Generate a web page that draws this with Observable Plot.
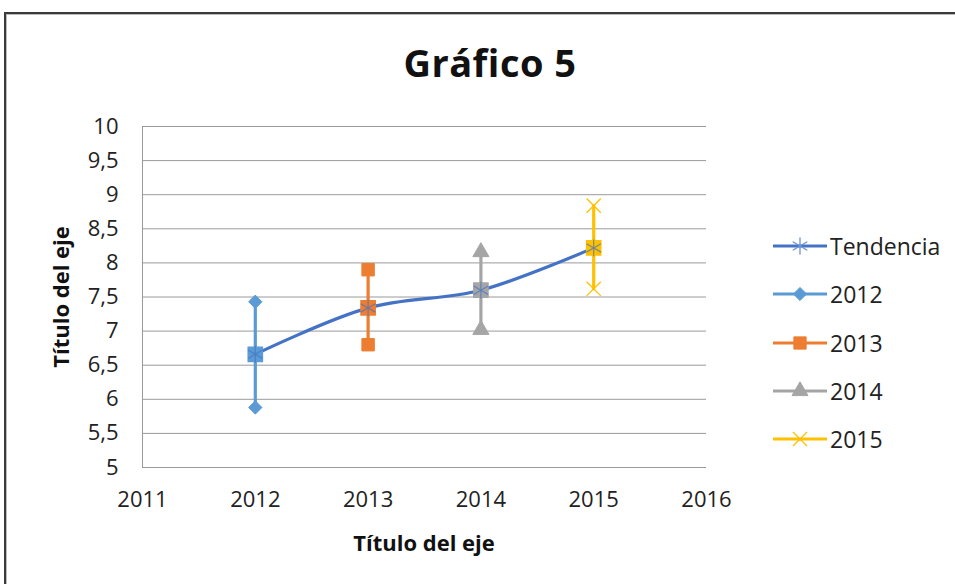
<!DOCTYPE html>
<html>
<head>
<meta charset="utf-8">
<script src="https://cdn.jsdelivr.net/npm/d3@7"></script>
<script src="https://cdn.jsdelivr.net/npm/@observablehq/plot@0.6"></script>
<style>
  html, body { margin: 0; padding: 0; background: #fff; }
  #wrap { position: relative; width: 955px; height: 584px; overflow: hidden; font-family: "Open Sans", Lato, sans-serif; color: #222; }
  #frame { position: absolute; left: 4px; top: 12px; width: 1100px; height: 800px; border: 2px solid #3a3a3a; box-shadow: inset 1px 1px 0 #bbb; }
  #title { position: absolute; left: 0; top: 36px; width: 980px; text-align: center; font-size: 38px; font-weight: bold; color: #111; letter-spacing: 0.5px; }
  #xlabel { position: absolute; left: 142px; width: 564px; top: 527px; text-align: center; font-size: 22px; font-weight: bold; color: #111; }
  #ylabel { position: absolute; left: 60px; top: 297px; transform: translate(-50%, -50%) rotate(-90deg); font-size: 22px; font-weight: bold; white-space: nowrap; color: #111; }
  #legend { position: absolute; left: 772px; top: 222px; }
  .item { display: flex; align-items: center; height: 48.25px; font-size: 23px; color: #222; }
  .item svg { margin-right: 2px; }
  #chart { position: absolute; left: 0; top: 0; }
</style>
</head>
<body>
<div id="wrap">
  <div id="frame"></div>
  <div id="chart"></div>
  <div id="title">Gráfico 5</div>
  <div id="xlabel">Título del eje</div>
  <div id="ylabel">Título del eje</div>
  <div id="legend"></div>
</div>
<script>
const years = [2012, 2013, 2014, 2015];
const minVals = [5.88, 6.80, 7.02, 7.62];
const meanVals = [6.66, 7.34, 7.60, 8.22];
const maxVals = [7.43, 7.90, 8.16, 8.84];
const seriesNames = ["2012", "2013", "2014", "2015"];
const seriesColors = ["#5B9BD5", "#ED7D31", "#A5A5A5", "#FFC000"];
const seriesSymbols = ["diamond2", "square", "triangle", "times"];
const trendName = "Tendencia";
const trendColor = "#4472C4";
const xTicks = [2011, 2012, 2013, 2014, 2015, 2016];
const yTicks = d3.range(5, 10.01, 0.5);

// build point table: each series holds max, mean, min
const pts = [];
years.forEach((yr, i) => {
  [maxVals[i], meanVals[i], minVals[i]].forEach((v, k) => {
    pts.push({year: yr, value: v, series: seriesNames[i], kind: k === 1 ? "mean" : "end"});
  });
});
const trend = years.map((yr, i) => ({year: yr, value: meanVals[i]}));

const marks = [
  Plot.gridY(yTicks, {stroke: "#9a9a9a", strokeOpacity: 1, strokeWidth: 1}),
  Plot.ruleX([2011], {stroke: "#9a9a9a"}),
  Plot.ruleY([5], {stroke: "#9a9a9a"}),
  Plot.axisY(yTicks, {tickSize: 0, tickPadding: 24, tickFormat: d => String(d).replace(".", ","), label: null}),
  Plot.axisX(xTicks, {tickSize: 0, tickPadding: 24, tickFormat: d => String(d), label: null})
];
seriesNames.forEach((s, i) => {
  const data = pts.filter(p => p.series === s);
  marks.push(Plot.line(data, {x: "year", y: "value", stroke: seriesColors[i], strokeWidth: 3.2}));
});
marks.push(Plot.line(trend, {x: "year", y: "value", stroke: trendColor, strokeWidth: 3.2, curve: "catmull-rom"}));
seriesNames.forEach((s, i) => {
  const ends = pts.filter(p => p.series === s && p.kind === "end");
  const sym = seriesSymbols[i];
  if (sym === "times") {
    marks.push(Plot.dot(ends, {x: "year", y: "value", symbol: sym, r: 6.5, stroke: seriesColors[i], strokeWidth: 1.3}));
  } else {
    marks.push(Plot.dot(ends, {x: "year", y: "value", symbol: sym, r: sym === "square" ? 7 : 6, fill: seriesColors[i], stroke: seriesColors[i], strokeWidth: 1}));
  }
  const mid = pts.filter(p => p.series === s && p.kind === "mean");
  marks.push(Plot.dot(mid, {x: "year", y: "value", symbol: "square", r: 8, fill: seriesColors[i], stroke: seriesColors[i]}));
});
marks.push(Plot.dot(trend, {x: "year", y: "value", symbol: "asterisk", r: 8, stroke: trendColor, strokeOpacity: 0.7, strokeWidth: 1.2}));

const chart = Plot.plot({
  width: 955,
  height: 584,
  marginLeft: 142,
  marginRight: 249,
  marginTop: 126,
  marginBottom: 117,
  x: {domain: [2011, 2016]},
  y: {domain: [5, 10]},
  style: {fontSize: "22px", fontFamily: "'Open Sans', Lato, sans-serif", color: "#222", background: "transparent", overflow: "visible"},
  marks
});
document.getElementById("chart").appendChild(chart);

// legend
const legend = d3.select("#legend");
const items = [{name: trendName, color: trendColor, sym: "asterisk"}].concat(
  seriesNames.map((s, i) => ({name: s, color: seriesColors[i], sym: seriesSymbols[i]})));
const symMap = {asterisk: d3.symbolAsterisk, diamond2: d3.symbolDiamond2, square: d3.symbolSquare, triangle: d3.symbolTriangle, times: d3.symbolTimes};
items.forEach(it => {
  const row = legend.append("div").attr("class", "item");
  const svg = row.append("svg").attr("width", 56).attr("height", 20);
  svg.append("line").attr("x1", 1).attr("x2", 55).attr("y1", 10).attr("y2", 10).attr("stroke", it.color).attr("stroke-width", 3.2);
  const stroked = it.sym === "asterisk" || it.sym === "times";
  const size = it.sym === "asterisk" ? 200 : it.sym === "times" ? 130 : it.sym === "square" ? 150 : 110;
  svg.append("path").attr("transform", "translate(28,10)")
    .attr("d", d3.symbol(symMap[it.sym], size)())
    .attr("fill", stroked ? "none" : it.color)
    .attr("stroke", stroked ? (it.sym === "asterisk" ? "#6a8fd8" : it.color) : it.color)
    .attr("stroke-width", stroked ? 1.3 : 1);
  row.append("span").text(it.name);
});
</script>
</body>
</html>
